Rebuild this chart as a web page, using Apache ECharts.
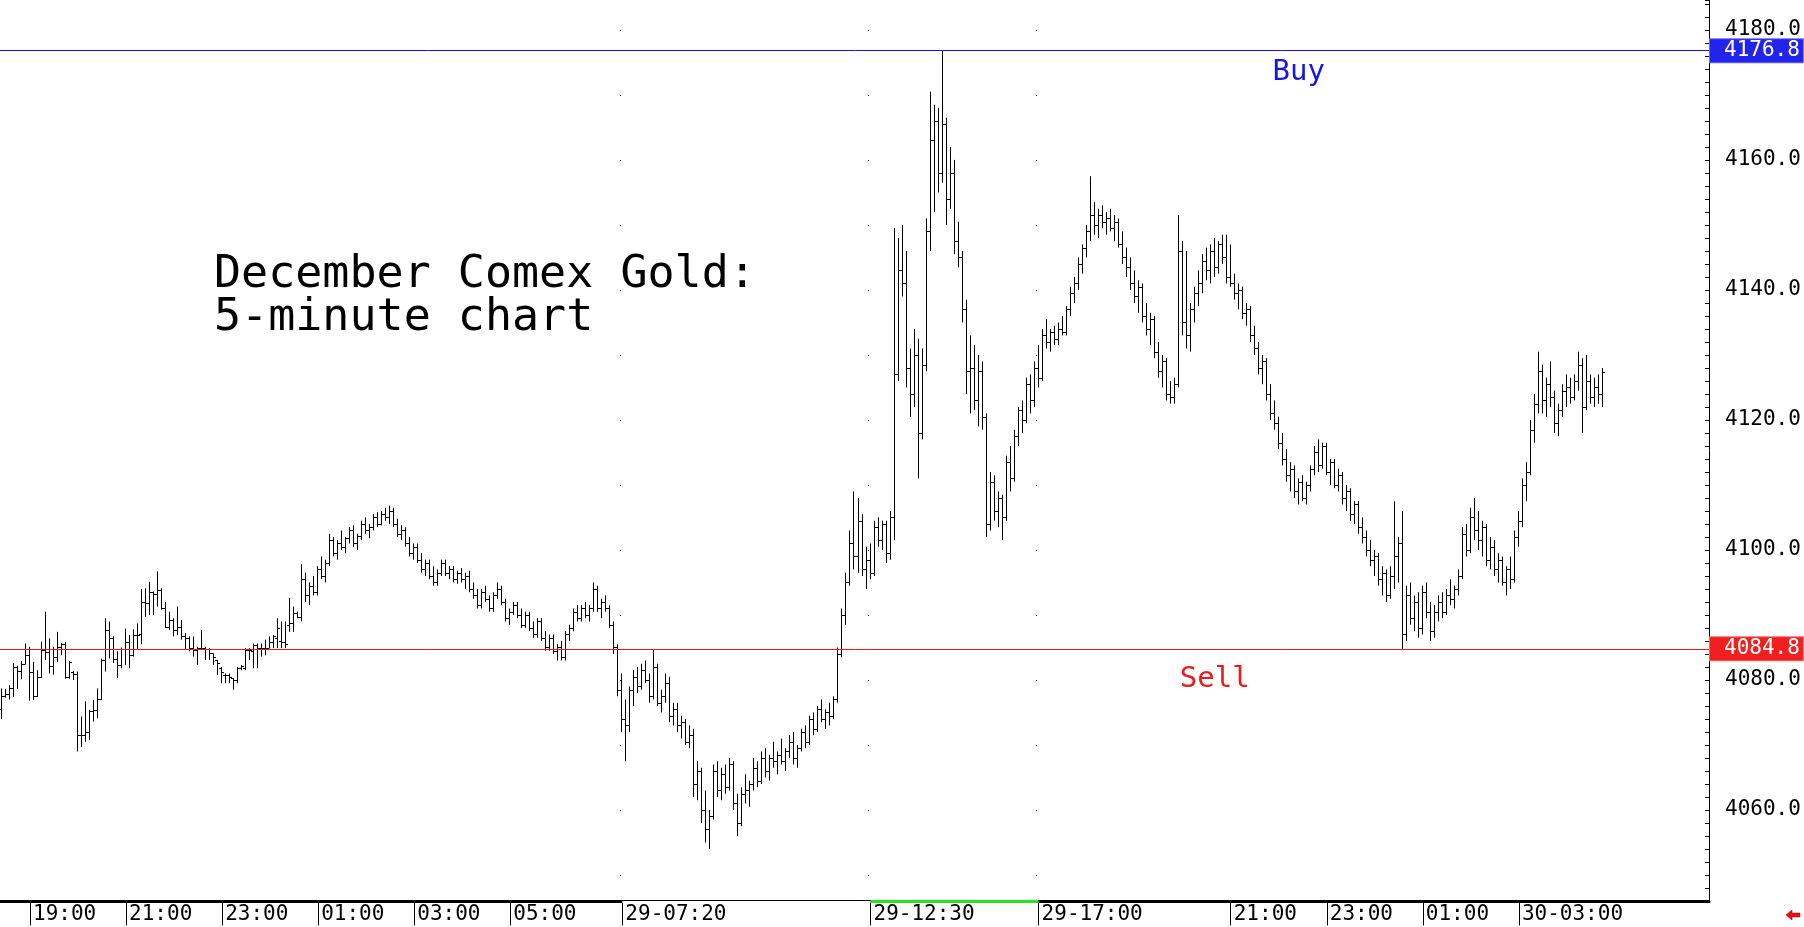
<!DOCTYPE html>
<html>
<head>
<meta charset="utf-8">
<script src="https://cdn.jsdelivr.net/npm/echarts@6/dist/echarts.min.js"></script>
<style>
  html, body { margin: 0; padding: 0; background: #fff; }
  #gold { width: 1804px; height: 927px; }
</style>
</head>
<body>
<div id="gold"></div>
<script>
// 5-minute bars, one row per bar: [open, high, low, close]
var bars = [
  [4075.5,4078.7,4074.0,4077.6],[4077.6,4078.6,4077.3,4077.8],[4077.8,4079.2,4077.0,4078.8],[4078.8,4082.6,4077.4,4082.0],
  [4082.0,4082.2,4078.6,4081.4],[4081.4,4082.9,4080.1,4082.5],[4082.5,4085.6,4082.4,4083.8],[4083.8,4085.1,4076.8,4081.2],
  [4081.2,4082.8,4076.9,4077.5],[4077.5,4081.5,4077.4,4080.5],[4080.5,4085.9,4080.3,4084.6],[4084.6,4090.5,4083.1,4084.3],
  [4084.3,4086.4,4081.0,4082.2],[4082.2,4085.1,4080.8,4083.5],[4083.5,4087.4,4082.8,4085.0],[4085.0,4085.7,4083.8,4085.6],
  [4085.6,4085.8,4080.2,4080.5],[4080.5,4082.9,4080.2,4082.7],[4081.2,4081.4,4080.0,4080.9],[4080.9,4081.3,4069.0,4071.5],
  [4071.5,4074.4,4069.7,4071.5],[4071.6,4076.7,4070.5,4072.0],[4072.0,4075.4,4070.8,4075.3],[4075.3,4076.9,4073.6,4075.4],
  [4075.4,4078.7,4074.1,4077.0],[4077.0,4083.3,4076.9,4083.1],[4083.0,4089.5,4081.3,4087.7],[4087.7,4089.0,4083.3,4086.4],
  [4086.4,4086.7,4082.6,4083.3],[4083.3,4084.4,4080.3,4082.3],[4082.3,4085.0,4081.8,4084.7],[4084.7,4087.9,4082.3,4085.9],
  [4085.9,4086.9,4081.8,4083.8],[4083.8,4087.8,4083.6,4086.9],[4086.9,4088.7,4084.6,4086.9],[4087.0,4094.0,4085.5,4092.0],
  [4092.0,4094.1,4089.7,4091.8],[4091.8,4095.1,4090.0,4093.5],[4093.5,4093.6,4090.0,4093.3],[4093.3,4096.7,4091.3,4093.9],
  [4093.9,4094.1,4090.8,4091.0],[4091.0,4092.0,4088.0,4088.1],[4088.1,4090.5,4087.7,4089.2],[4089.2,4089.5,4086.7,4087.7],
  [4087.7,4091.3,4086.9,4088.2],[4088.2,4089.2,4086.2,4086.7],[4086.7,4087.2,4084.6,4086.4],[4086.4,4086.7,4084.4,4084.9],
  [4084.9,4086.7,4083.6,4084.6],[4084.6,4085.1,4082.3,4084.9],[4084.9,4087.7,4084.6,4084.9],[4084.9,4085.1,4083.1,4084.8],
  [4084.8,4084.9,4083.1,4084.1],[4084.1,4084.1,4082.3,4083.6],[4083.1,4083.1,4080.8,4082.6],[4081.8,4082.0,4079.5,4081.3],
  [4080.8,4081.0,4079.5,4080.8],[4080.8,4081.0,4079.5,4080.5],[4080.3,4080.3,4078.5,4080.0],[4080.0,4082.0,4079.5,4081.8],
  [4081.8,4082.3,4081.5,4082.1],[4081.9,4084.9,4081.5,4084.6],[4084.6,4084.9,4083.1,4084.6],[4084.4,4085.6,4081.8,4085.4],
  [4085.4,4085.6,4081.8,4084.9],[4084.9,4085.6,4083.6,4084.9],[4084.9,4086.2,4083.8,4084.9],[4084.9,4086.7,4084.9,4085.9],
  [4085.9,4086.9,4084.9,4086.7],[4086.4,4089.5,4084.9,4088.0],[4086.0,4089.0,4084.9,4085.9],[4085.9,4089.0,4084.9,4085.6],
  [4088.5,4092.6,4087.4,4088.7],[4088.7,4091.3,4087.4,4090.3],[4090.3,4090.5,4089.5,4089.7],[4089.7,4097.8,4089.0,4095.5],
  [4095.5,4096.5,4092.0,4093.0],[4093.0,4095.0,4091.5,4094.5],[4094.5,4096.0,4093.0,4093.5],[4093.5,4097.5,4093.0,4097.0],
  [4097.0,4099.0,4095.5,4096.0],[4096.0,4098.5,4095.0,4098.0],[4098.0,4102.5,4097.5,4101.5],[4101.5,4102.0,4099.0,4099.5],
  [4099.5,4101.5,4098.5,4101.0],[4101.0,4103.0,4100.0,4100.5],[4100.5,4102.0,4099.5,4101.8],[4101.8,4103.5,4101.0,4103.0],
  [4103.0,4103.8,4100.5,4101.0],[4101.0,4102.5,4100.0,4102.2],[4102.2,4104.5,4101.5,4104.0],[4104.0,4105.0,4102.5,4103.0],
  [4103.0,4104.0,4101.8,4103.5],[4103.5,4105.5,4103.0,4105.0],[4105.0,4105.8,4103.5,4104.0],[4104.0,4106.0,4103.8,4105.5],
  [4105.5,4106.5,4104.5,4105.0],[4105.0,4106.8,4104.0,4106.0],[4106.0,4106.5,4103.5,4104.0],[4104.0,4104.8,4102.0,4102.5],
  [4102.5,4103.8,4101.5,4103.0],[4103.0,4103.5,4100.5,4101.0],[4101.0,4102.0,4099.0,4099.5],[4099.5,4101.0,4098.5,4100.5],
  [4100.5,4101.0,4098.0,4098.5],[4098.5,4099.5,4096.5,4097.0],[4097.0,4098.5,4096.0,4098.0],[4098.0,4098.5,4095.5,4096.0],
  [4096.0,4097.5,4094.5,4095.0],[4095.0,4097.0,4094.5,4096.5],[4096.5,4098.5,4096.0,4098.0],[4098.0,4098.5,4096.0,4096.5],
  [4096.5,4097.5,4095.5,4097.0],[4097.0,4097.5,4095.0,4095.5],[4095.5,4096.8,4094.8,4096.5],[4096.5,4097.2,4095.0,4095.5],
  [4095.5,4096.5,4094.0,4096.0],[4096.0,4096.8,4093.5,4094.0],[4094.0,4095.0,4092.5,4093.0],[4093.0,4094.0,4091.0,4091.5],
  [4091.5,4094.0,4091.0,4093.5],[4093.5,4094.5,4092.0,4092.5],[4092.5,4093.0,4090.5,4091.0],[4091.0,4093.5,4090.5,4093.0],
  [4093.0,4095.0,4092.5,4094.0],[4094.0,4094.5,4091.5,4092.0],[4092.0,4092.5,4089.0,4089.5],[4089.5,4091.0,4088.5,4090.5],
  [4090.5,4092.0,4090.0,4091.5],[4091.5,4092.0,4089.5,4090.0],[4090.0,4091.0,4088.0,4088.5],[4088.5,4090.5,4088.0,4090.0],
  [4090.0,4090.5,4087.5,4088.0],[4088.0,4089.0,4086.5,4087.0],[4087.0,4089.5,4086.5,4089.0],[4089.0,4089.5,4086.0,4086.5],
  [4086.5,4087.5,4084.5,4085.0],[4085.0,4087.0,4084.5,4086.5],[4086.5,4087.0,4084.0,4084.5],[4084.5,4085.5,4083.0,4085.0],
  [4085.0,4086.0,4083.0,4083.5],[4083.5,4087.5,4083.0,4087.0],[4087.0,4088.5,4086.0,4088.0],[4088.0,4091.0,4087.5,4090.5],
  [4090.5,4091.5,4089.0,4089.5],[4089.5,4091.5,4089.0,4091.0],[4091.0,4092.0,4089.5,4090.0],[4090.0,4091.5,4089.0,4091.0],
  [4091.0,4095.0,4090.5,4094.0],[4094.0,4094.5,4090.5,4091.0],[4091.0,4092.5,4089.5,4092.0],[4092.0,4093.0,4090.5,4091.0],
  [4091.0,4091.5,4088.0,4088.5],[4088.5,4089.0,4084.0,4085.0],[4085.0,4085.5,4077.5,4078.5],[4078.5,4081.0,4072.0,4074.0],
  [4074.0,4077.0,4067.5,4073.0],[4073.0,4079.0,4072.0,4078.5],[4078.5,4081.5,4076.0,4080.5],[4080.5,4082.0,4078.0,4079.0],
  [4079.0,4082.5,4078.5,4081.5],[4081.5,4083.0,4079.5,4080.0],[4080.0,4081.0,4076.5,4077.5],[4077.5,4084.6,4077.0,4082.0],
  [4082.0,4082.5,4076.0,4076.5],[4076.5,4078.5,4075.0,4077.5],[4077.5,4081.0,4076.5,4079.5],[4079.5,4080.5,4073.5,4074.5],
  [4074.5,4076.5,4073.0,4075.5],[4075.5,4076.5,4072.0,4073.0],[4073.0,4074.5,4071.0,4073.5],[4073.5,4074.0,4070.0,4070.5],
  [4070.5,4073.0,4069.5,4071.5],[4071.5,4072.5,4062.0,4064.0],[4064.0,4067.5,4061.5,4066.0],[4066.0,4066.5,4058.0,4060.0],
  [4060.0,4063.0,4055.0,4057.0],[4057.0,4060.0,4054.0,4059.0],[4059.0,4067.0,4058.5,4066.0],[4066.0,4067.5,4062.0,4063.0],
  [4063.0,4066.5,4061.5,4065.5],[4065.5,4067.0,4062.5,4063.5],[4063.5,4068.0,4063.0,4067.0],[4067.0,4067.5,4060.0,4061.0],
  [4061.0,4062.5,4056.0,4058.0],[4058.0,4063.5,4057.5,4062.5],[4062.5,4065.5,4061.0,4063.0],[4063.0,4064.5,4060.5,4064.0],
  [4064.0,4068.0,4063.0,4066.5],[4066.5,4067.5,4063.5,4064.5],[4064.5,4069.0,4064.0,4068.0],[4068.0,4069.5,4065.0,4066.0],
  [4066.0,4068.5,4064.5,4068.0],[4068.0,4070.5,4066.5,4067.5],[4067.5,4069.0,4065.5,4068.5],[4068.5,4071.0,4067.0,4067.5],
  [4067.5,4069.5,4066.0,4069.0],[4069.0,4071.5,4068.0,4070.5],[4070.5,4072.0,4067.0,4068.0],[4068.0,4070.0,4066.5,4069.5],
  [4069.5,4072.5,4069.0,4072.0],[4072.0,4073.0,4069.5,4070.5],[4070.5,4074.5,4070.0,4074.0],[4074.0,4075.0,4071.5,4072.5],
  [4072.5,4076.0,4072.0,4075.5],[4075.5,4077.0,4073.5,4074.0],[4074.0,4075.5,4072.5,4075.0],[4075.0,4076.5,4073.0,4074.5],
  [4074.5,4077.5,4074.0,4077.0],[4077.0,4085.0,4076.5,4084.0],[4084.0,4091.0,4083.5,4090.0],[4090.0,4096.5,4088.5,4095.0],
  [4095.0,4103.0,4094.5,4101.0],[4101.0,4109.0,4097.0,4099.0],[4099.0,4108.0,4096.5,4104.5],[4104.5,4105.5,4096.0,4097.0],
  [4097.0,4100.5,4094.0,4098.5],[4098.5,4101.0,4095.5,4096.5],[4096.5,4104.5,4096.0,4103.5],[4103.5,4105.0,4100.5,4101.5],
  [4101.5,4104.5,4100.0,4104.0],[4104.0,4104.5,4098.0,4099.5],[4099.5,4106.0,4098.5,4105.0],[4105.0,4149.5,4101.5,4127.0],
  [4127.0,4148.0,4126.0,4143.0],[4143.0,4150.0,4139.0,4141.0],[4141.0,4146.0,4125.0,4128.0],[4128.0,4131.0,4120.5,4124.0],
  [4124.0,4134.0,4122.0,4130.0],[4130.0,4132.5,4111.0,4118.0],[4118.0,4131.0,4117.0,4128.5],[4128.5,4151.0,4127.5,4149.0],
  [4149.0,4170.5,4146.0,4163.0],[4163.0,4168.5,4152.0,4166.0],[4166.0,4168.0,4155.0,4158.0],[4158.0,4176.8,4156.5,4165.5],
  [4165.5,4166.5,4150.0,4154.0],[4154.0,4162.0,4152.5,4158.0],[4158.0,4160.0,4145.5,4147.5],[4147.5,4150.5,4143.5,4145.0],
  [4145.0,4146.0,4135.0,4137.0],[4137.0,4138.5,4124.0,4127.5],[4127.5,4133.0,4121.0,4128.0],[4128.0,4131.5,4121.5,4123.0],
  [4123.0,4130.0,4119.0,4127.5],[4127.5,4129.0,4118.5,4120.5],[4120.5,4121.0,4102.0,4104.0],[4104.0,4112.0,4103.0,4110.5],
  [4110.5,4111.5,4104.5,4106.0],[4106.0,4109.0,4103.5,4108.0],[4108.0,4108.5,4101.5,4105.0],[4105.0,4114.5,4104.5,4113.5],
  [4113.5,4116.0,4109.0,4111.0],[4111.0,4118.5,4110.5,4117.5],[4117.5,4122.0,4116.0,4121.5],[4121.5,4123.0,4118.0,4120.0],
  [4120.0,4126.5,4119.5,4125.5],[4125.5,4127.0,4121.0,4123.0],[4123.0,4129.0,4122.0,4128.0],[4128.0,4131.5,4125.0,4126.5],
  [4126.5,4134.0,4126.0,4133.0],[4133.0,4135.5,4131.0,4132.0],[4132.0,4134.0,4130.5,4133.5],[4133.5,4134.5,4131.5,4132.5],
  [4132.5,4135.0,4131.5,4134.0],[4134.0,4136.0,4133.0,4133.5],[4133.5,4137.5,4133.0,4137.0],[4137.0,4140.5,4136.0,4139.5],
  [4139.5,4142.0,4138.0,4141.0],[4141.0,4145.0,4140.0,4144.0],[4144.0,4147.0,4142.5,4146.5],[4146.5,4150.0,4145.0,4149.0],
  [4149.0,4157.5,4147.5,4151.5],[4151.5,4153.5,4148.5,4150.0],[4150.0,4152.5,4148.0,4151.5],[4151.5,4153.0,4149.5,4150.5],
  [4150.5,4152.0,4148.5,4151.0],[4151.0,4152.5,4149.0,4149.5],[4149.5,4151.5,4147.5,4150.5],[4150.5,4151.0,4146.5,4147.0],
  [4147.0,4149.0,4144.0,4145.0],[4145.0,4146.5,4142.0,4143.5],[4143.5,4145.0,4140.0,4141.0],[4141.0,4143.0,4138.0,4139.0],
  [4139.0,4141.5,4136.5,4140.5],[4140.5,4141.0,4135.0,4136.0],[4136.0,4138.0,4133.0,4134.0],[4134.0,4136.5,4131.5,4135.5],
  [4135.5,4136.0,4129.5,4130.5],[4130.5,4132.0,4126.5,4127.5],[4127.5,4130.0,4125.0,4129.0],[4129.0,4129.5,4123.0,4124.0],
  [4124.0,4126.0,4122.5,4123.5],[4123.5,4126.5,4122.5,4125.5],[4125.5,4151.5,4125.0,4146.0],[4146.0,4147.5,4133.0,4135.0],
  [4135.0,4146.0,4131.0,4133.0],[4133.0,4138.0,4130.5,4137.0],[4137.0,4140.5,4135.0,4139.5],[4139.5,4143.0,4137.5,4141.0],
  [4141.0,4145.5,4139.5,4144.5],[4144.5,4146.5,4141.5,4143.0],[4143.0,4147.0,4141.0,4146.0],[4146.0,4148.0,4142.0,4143.5],
  [4143.5,4147.5,4142.5,4147.0],[4147.0,4148.5,4144.0,4145.0],[4145.0,4148.5,4141.0,4142.0],[4142.0,4147.0,4140.5,4141.0],
  [4141.0,4142.5,4138.5,4139.5],[4139.5,4141.0,4137.0,4140.0],[4140.0,4140.5,4135.5,4136.5],[4136.5,4138.0,4134.5,4137.0],
  [4137.0,4137.5,4132.0,4133.0],[4133.0,4134.5,4130.0,4131.0],[4131.0,4132.0,4127.0,4128.0],[4128.0,4130.0,4125.5,4129.0],
  [4129.0,4129.5,4123.0,4124.0],[4124.0,4125.5,4120.0,4121.0],[4121.0,4123.0,4118.5,4119.5],[4119.5,4120.5,4115.5,4116.5],
  [4116.5,4118.0,4113.0,4114.0],[4114.0,4115.5,4110.5,4111.5],[4111.5,4113.5,4109.0,4112.5],[4112.5,4113.0,4108.0,4109.0],
  [4109.0,4111.0,4107.0,4110.5],[4110.5,4111.5,4107.5,4108.0],[4108.0,4110.5,4107.0,4110.0],[4110.0,4113.0,4109.0,4112.5],
  [4112.5,4116.0,4111.5,4115.0],[4115.0,4117.0,4112.0,4113.0],[4113.0,4116.5,4112.5,4116.0],[4116.0,4116.5,4111.5,4112.0],
  [4112.0,4114.0,4110.0,4113.5],[4113.5,4114.0,4109.5,4110.0],[4110.0,4112.5,4109.0,4111.5],[4111.5,4112.0,4107.0,4108.0],
  [4108.0,4110.0,4106.0,4109.0],[4109.0,4109.5,4104.5,4105.5],[4105.5,4107.5,4104.0,4107.0],[4107.0,4107.5,4102.5,4103.5],
  [4103.5,4105.0,4101.0,4102.0],[4102.0,4103.0,4099.0,4100.0],[4100.0,4101.5,4097.5,4098.5],[4098.5,4100.0,4096.0,4099.0],
  [4099.0,4099.5,4094.5,4095.5],[4095.5,4097.5,4093.0,4096.5],[4096.5,4097.0,4092.0,4093.0],[4093.0,4097.5,4092.5,4096.0],
  [4096.0,4107.5,4094.0,4099.0],[4099.0,4102.0,4095.0,4101.0],[4101.0,4106.0,4084.8,4087.0],[4087.0,4094.5,4086.0,4093.0],
  [4093.0,4095.0,4088.5,4089.5],[4089.5,4093.0,4087.5,4092.0],[4092.0,4093.5,4086.5,4088.0],[4088.0,4094.5,4087.0,4093.5],
  [4093.5,4095.0,4089.5,4090.5],[4090.5,4092.0,4086.0,4087.5],[4087.5,4091.5,4086.5,4090.5],[4090.5,4093.0,4089.0,4092.0],
  [4092.0,4093.5,4089.5,4090.5],[4090.5,4094.0,4090.0,4093.0],[4093.0,4095.5,4091.5,4092.5],[4092.5,4094.5,4091.0,4094.0],
  [4094.0,4097.0,4093.0,4096.0],[4096.0,4103.5,4095.5,4102.5],[4102.5,4104.0,4099.0,4100.0],[4100.0,4106.5,4099.5,4105.0],
  [4105.0,4108.0,4101.5,4103.0],[4103.0,4106.0,4100.0,4101.5],[4101.5,4104.5,4099.0,4103.5],[4103.5,4104.0,4097.5,4098.5],
  [4098.5,4102.0,4097.0,4100.5],[4100.5,4101.5,4096.0,4097.0],[4097.0,4099.5,4095.0,4098.5],[4098.5,4099.0,4094.5,4095.0],
  [4095.0,4097.5,4093.0,4097.0],[4097.0,4099.0,4094.0,4095.5],[4095.5,4103.0,4095.0,4102.0],[4102.0,4106.0,4100.5,4104.5],
  [4104.5,4111.0,4103.5,4110.0],[4110.0,4113.5,4107.5,4112.0],[4112.0,4120.0,4111.5,4118.5],[4118.5,4124.0,4116.5,4122.5],
  [4122.5,4130.5,4121.0,4127.5],[4127.5,4128.5,4121.0,4123.0],[4123.0,4126.5,4120.5,4125.5],[4125.5,4129.0,4122.0,4123.5],
  [4123.5,4124.5,4118.0,4119.5],[4119.5,4122.5,4117.5,4121.5],[4121.5,4125.5,4120.5,4124.5],[4124.5,4127.0,4122.0,4125.0],
  [4125.0,4126.5,4122.5,4123.5],[4123.5,4127.0,4123.0,4126.0],[4126.0,4130.5,4124.5,4128.5],[4128.5,4129.5,4118.0,4122.0],
  [4122.0,4130.0,4121.5,4126.0],[4126.0,4127.0,4122.5,4123.5],[4123.5,4126.5,4122.0,4125.0],[4125.0,4127.0,4122.5,4124.0],
  [4124.0,4128.0,4122.0,4127.4]
];

// time axis: bar index -> label
var tickIdx  = [7, 31, 55, 79, 103, 127, 155, 217, 259, 307, 331, 355, 379];
var tickText = ['19:00', '21:00', '23:00', '01:00', '03:00', '05:00', '29-07:20', '29-12:30', '29-17:00', '21:00', '23:00', '01:00', '30-03:00'];
var dotIdx = [155, 217, 259];      // dotted grid columns
var slots = 427;                   // room for empty space on the right

var buyLevel = 4176.8;
var sellLevel = 4084.8;
var lastPrice = 4127.4;

var mono = '"DejaVu Sans Mono", monospace';

var cats = [];
for (var i = 0; i < slots; i++) cats.push(String(i));
var labelAt = {};
tickIdx.forEach(function (k, j) { labelAt[k] = tickText[j]; });

var chart = echarts.init(document.getElementById('gold'));

function crisp(v) { return Math.round(v) + 0.5; }

function renderBar(params, api) {
  var i = api.value(0);
  var o = api.coord([i, api.value(1)]);
  var h = api.coord([i, api.value(2)]);
  var l = api.coord([i, api.value(3)]);
  var c = api.coord([i, api.value(4)]);
  var x = Math.round(o[0]) - 0.5;
  var st = { stroke: '#000', lineWidth: 1 };
  var yl = Math.max(l[1], h[1] + 1);
  return {
    type: 'group',
    children: [
      { type: 'line', shape: { x1: x, y1: h[1], x2: x, y2: yl }, style: st },
      { type: 'line', shape: { x1: x - 2.5, y1: crisp(o[1]), x2: x, y2: crisp(o[1]) }, style: st },
      { type: 'line', shape: { x1: x, y1: crisp(c[1]), x2: x + 2.5, y2: crisp(c[1]) }, style: st }
    ]
  };
}

function levelLabel(bg, border) {
  return {
    show: true,
    position: 'end',
    distance: 1,
    formatter: function (p) { return p.value.toFixed(1); },
    fontFamily: mono,
    fontSize: 21,
    lineHeight: 21,
    color: '#fff',
    backgroundColor: bg,
    borderColor: border,
    borderWidth: 1,
    padding: [1, 3, 1, 14]
  };
}

var option = {
  animation: false,
  backgroundColor: '#fff',
  title: {
    text: 'December Comex Gold:\n5-minute chart',
    left: 214,
    top: 254,
    padding: 0,
    textStyle: {
      fontFamily: mono,
      fontSize: 45,
      lineHeight: 43,
      fontWeight: 'normal',
      color: '#000'
    }
  },
  grid: { left: 0, right: 95, top: 0, bottom: 26 },
  xAxis: {
    type: 'category',
    data: cats,
    boundaryGap: true,
    offset: 0.5,
    axisLine: { lineStyle: { color: '#000', width: 3 } },
    axisTick: {
      show: true,
      alignWithLabel: true,
      length: 24,
      interval: function (i) { return labelAt[i] !== undefined; },
      lineStyle: { color: '#000', width: 1 }
    },
    axisLabel: {
      interval: function (i) { return labelAt[i] !== undefined; },
      formatter: function (v, i) { return labelAt[i] || ''; },
      align: 'left',
      padding: [0, 0, 0, 3],
      margin: 3,
      fontFamily: mono,
      fontSize: 21,
      color: '#000'
    },
    splitLine: {
      show: true,
      interval: function (i) { return dotIdx.indexOf(i) >= 0; },
      lineStyle: { color: '#000', width: 1, type: [1, 64], dashOffset: 35 }
    }
  },
  yAxis: {
    type: 'value',
    position: 'right',
    min: 4046,
    max: 4184.6,
    interval: 2,
    axisLine: { show: true, lineStyle: { color: '#000', width: 1 } },
    axisTick: { show: true, inside: true, length: 4, lineStyle: { color: '#000' } },
    axisLabel: {
      formatter: function (v) { return v % 20 === 0 ? v.toFixed(1) : ''; },
      fontFamily: mono,
      fontSize: 21,
      color: '#000',
      margin: 16
    },
    splitLine: { show: false }
  },
  series: [{
    type: 'custom',
    renderItem: renderBar,
    clip: true,
    encode: { x: 0, y: [1, 2, 3, 4] },
    data: bars.map(function (b, i) { return [i, b[0], b[1], b[2], b[3]]; }),
    markLine: {
      silent: true,
      symbol: 'none',
      data: [
        { yAxis: buyLevel, lineStyle: { color: '#1414e6', width: 1, type: 'solid' }, label: levelLabel('#2323ee', '#6a6af5') },
        { yAxis: sellLevel, lineStyle: { color: '#f01818', width: 1, type: 'solid' }, label: levelLabel('#f02020', '#f56a6a') },
        { yAxis: lastPrice, lineStyle: { color: '#fff', width: 0, opacity: 0 }, label: levelLabel('#1c1c1c', '#777') }
      ]
    },
    markPoint: {
      silent: true,
      symbol: 'circle',
      symbolSize: 0,
      data: [
        { coord: [324, 4173.4], label: { show: true, position: 'inside', formatter: 'Buy', color: '#1414f0', fontFamily: mono, fontSize: 29 } },
        { coord: [303, 4080.1], label: { show: true, position: 'inside', formatter: 'Sell', color: '#f01818', fontFamily: mono, fontSize: 29 } }
      ]
    }
  }]
};

chart.setOption(option);

// session strip on the time axis and the small scroll arrow
var xs = dotIdx.map(function (k) { return chart.convertToPixel({ xAxisIndex: 0 }, k); });
chart.setOption({
  graphic: [
    { type: 'rect', shape: { x: xs[0], y: 901, width: xs[1] - xs[0], height: 2 }, style: { fill: '#fff' }, z: 100 },
    { type: 'rect', shape: { x: xs[1], y: 900, width: xs[2] - xs[1], height: 3 }, style: { fill: '#22e622' }, z: 100 },
    {
      type: 'polygon',
      x: 1786, y: 910,
      shape: { points: [[0, 5], [6, 0], [6, 3], [14, 3], [14, 7], [6, 7], [6, 10]] },
      style: { fill: '#e81010', stroke: '#900', lineWidth: 0.5 },
      z: 100
    }
  ]
});
</script>
</body>
</html>
